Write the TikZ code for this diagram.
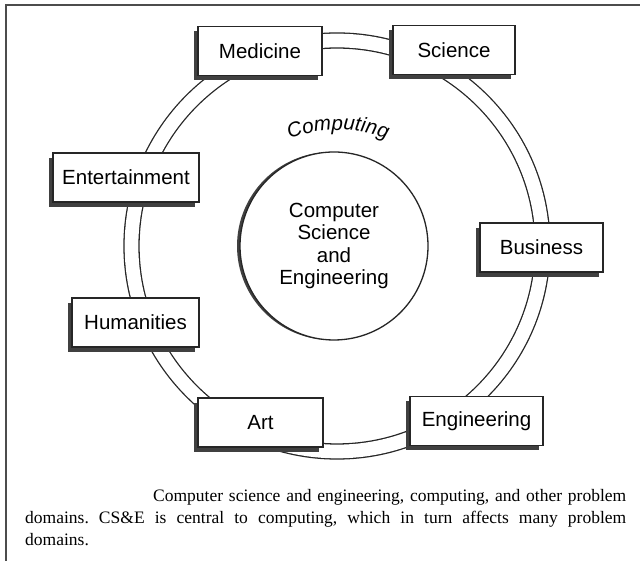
\documentclass[tikz,border=0pt]{standalone}
\usepackage{fontspec}
\setmainfont{Liberation Serif}
\setsansfont{Liberation Sans}
\usetikzlibrary{shadows,decorations.text}
\newcommand{\boxfont}{\sffamily\fontsize{20.5}{22.5}\selectfont}
\newcommand{\notefont}{\rmfamily\fontsize{17.5}{22}\selectfont\hyphenpenalty=10000\frenchspacing}

\begin{document}
\begin{tikzpicture}[x=1pt, y=1pt,
  areabox/.style={draw=black!85, line width=1.4pt, fill=white, minimum height=49pt, inner sep=0pt, font=\boxfont,
    drop shadow={shadow xshift=-4pt, shadow yshift=-5pt, fill=black!75, opacity=1}},
  core/.style={circle, draw=black!85, line width=1.3pt, fill=white, minimum size=188pt, inner sep=0pt, align=center, font=\boxfont,
    drop shadow={shadow xshift=-3pt, shadow yshift=0pt, fill=black!75, opacity=1}},
  ring/.style={draw=black!85, line width=1.3pt, double=white, double distance=13.7pt},
  frameline/.style={draw=black!70, line width=1.5pt}]
\useasboundingbox (0,0) rectangle (640,561);
\draw[frameline] (640,556) -| (6,0);

\coordinate (hub) at (337,315); \coordinate (arccentre) at (338,291);
\draw[ring] (hub) circle[radius=205.5];

\node[areabox, minimum width=124pt] (medicine) at (260,510) {Medicine};
\node[areabox, minimum width=122pt] (science) at (454,511) {Science};
\node[areabox, minimum width=146pt] (entertainment) at (126,383.5) {Entertainment};
\node[areabox, minimum width=123pt] (business) at (541.5,313.5) {Business};
\node[areabox, minimum width=127pt] (humanities) at (135.5,238.5) {Humanities};
\node[areabox, minimum width=125pt] (art) at (260.5,138.5) {Art};
\node[areabox, minimum width=133pt] (engineering) at (476.5,140) {Engineering};

\node[core] (cse) at (334,315) {Computer\\Science\\and\\Engineering};
\path[decorate, decoration={text along path, text align=center, text={|\boxfont\itshape|Computing}}]
  ([shift={(120:140)}]arccentre) arc[start angle=120, end angle=60, radius=140];

\node[anchor=base west, text width=601pt, inner sep=0pt, align=justify, font=\notefont] (caption) at (25,59)
  {\hspace*{128pt}Computer science and engineering, computing, and other problem\linebreak domains. CS\&E is central to computing, which in turn affects many problem\linebreak domains.};
\end{tikzpicture}
\end{document}
